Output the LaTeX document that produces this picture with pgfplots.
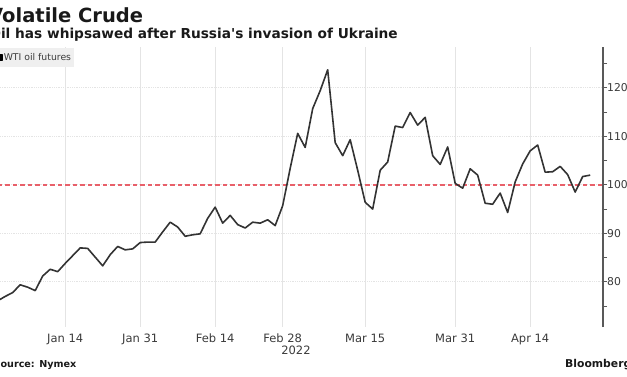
\documentclass[border=0pt]{standalone}
\usepackage{pgfplots}
\pgfplotsset{compat=1.18}
\usepackage{fontspec}
\setmainfont{DejaVu Sans}
\definecolor{refline}{HTML}{E8606A}
\definecolor{gridc}{HTML}{E4E4E4}
\definecolor{txt}{HTML}{3A3A3A}
\definecolor{series}{HTML}{333333}
\definecolor{legbg}{HTML}{EFEFEF}
\pgfplotstableread{
i v
0 76.1
1 77.0
2 77.8
3 79.4
4 78.9
5 78.2
6 81.2
7 82.6
8 82.1
9 83.8
10 85.4
11 87.0
12 86.9
13 85.1
14 83.3
15 85.6
16 87.3
17 86.6
18 86.8
19 88.1
20 88.2
21 88.2
22 90.3
23 92.3
24 91.3
25 89.4
26 89.7
27 89.9
28 93.1
29 95.4
30 92.1
31 93.7
32 91.8
33 91.1
34 92.3
35 92.1
36 92.8
37 91.6
38 95.7
39 103.4
40 110.6
41 107.7
42 115.7
43 119.4
44 123.7
45 108.7
46 106.0
47 109.3
48 103.0
49 96.4
50 95.0
51 103.0
52 104.7
53 112.1
54 111.8
55 114.9
56 112.3
57 113.9
58 106.0
59 104.2
60 107.8
61 100.3
62 99.3
63 103.3
64 102.0
65 96.2
66 96.0
67 98.3
68 94.3
69 100.6
70 104.3
71 107.0
72 108.2
73 102.6
74 102.7
75 103.8
76 102.1
77 98.5
78 101.7
79 102.0
}\wti
\begin{document}
\begin{tikzpicture}[x=1pt,y=1pt]
\useasboundingbox (0pt,0pt) rectangle (627pt,376pt);
\begin{axis}[
  at={(0pt,49pt)}, anchor=south west,
  scale only axis, width=603pt, height=280pt,
  xmin=0.307, xmax=80.71, ymin=70.7, ymax=128.4,
  axis y line*=right, axis x line*=bottom,
  x axis line style={draw=none},
  y axis line style={draw=black!65, line width=1.2pt},
  xtick={9,19,29,38,49,61,71},
  xticklabels={Jan 14,Jan 31,Feb 14,Feb 28,Mar 15,Mar 31,Apr 14},
  xtick style={draw=none},
  xticklabel style={font=\fontsize{11.5}{13}\selectfont, text=txt, inner sep=0pt, anchor=north, yshift=-3pt},
  ytick={80,90,...,120},
  minor ytick={75,85,...,125},
  tick align=outside,
  ytick style={draw=black!65, line width=1pt},
  minor y tick style={draw=black!65, line width=1pt},
  major tick length=4pt, minor tick length=4pt,
  yticklabel style={font=\fontsize{10.8}{13}\selectfont, text=txt, inner sep=0pt, anchor=west},
  /pgf/number format/assume math mode=true,
  xmajorgrids, ymajorgrids,
  major x grid style={gridc, line width=0.8pt},
  major y grid style={gridc, line width=0.8pt, densely dotted},
  legend style={at={(0,1)}, anchor=north west, xshift=-7pt, yshift=-1pt,
    fill=legbg, draw=none, font=\fontsize{9.3}{10}\selectfont, text=txt,
    inner xsep=2pt, inner ysep=4pt, nodes={inner sep=1pt}},
  legend image code/.code={\fill[black] (0pt,-3pt) rectangle (6pt,3pt);},
]
\addplot[refline, line width=2pt, dash pattern=on 4.5pt off 3pt, forget plot] coordinates {(0,100) (82,100)};
\addplot[series, line width=1.6pt, line join=round] table[x=i, y=v] {\wti};
\addlegendentry{WTI oil futures}
\end{axis}
\node[anchor=base west, inner sep=0, text=black!90, font=\bfseries\fontsize{19.5}{22}\selectfont] at (-12pt,353pt) {Volatile Crude};
\node[anchor=base west, inner sep=0, text=black!90, font=\bfseries\fontsize{13.7}{16}\selectfont] at (-10.8pt,337.5pt) {Oil has whipsawed after Russia\textquotesingle s invasion of Ukraine};
\node[anchor=base west, inner sep=0, text=black!90, font=\bfseries\fontsize{9.6}{11}\selectfont] at (-6.5pt,8.5pt) {Source: Nymex};
\node[anchor=base west, inner sep=0, text=black!90, font=\bfseries\fontsize{10.8}{13}\selectfont] at (565pt,9pt) {Bloomberg};
\node[inner sep=0, text=txt, font=\fontsize{11.5}{13}\selectfont] at (296pt,25.5pt) {2022};
\end{tikzpicture}
\end{document}
